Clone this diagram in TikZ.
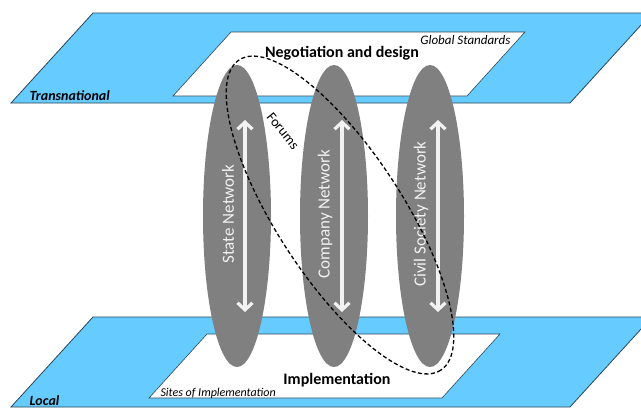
\documentclass[tikz,border=0pt]{standalone}
\usepackage{fontspec}
\setmainfont{Carlito}
\usepackage{tikz}
\usetikzlibrary{shapes.geometric, arrows.meta}
\definecolor{planeblue}{RGB}{102,204,255}
\definecolor{planeedge}{RGB}{40,70,85}
\definecolor{netgray}{RGB}{128,128,128}
\definecolor{flowwhite}{RGB}{242,242,242}

\begin{document}
\begin{tikzpicture}[x=1pt, y=-1pt,
        plane/.style={fill=planeblue, draw=planeedge, line width=0.8pt},
        site/.style={fill=white, draw=planeedge, line width=0.6pt},
        network/.style={ellipse, fill=netgray, draw=none, minimum width=68pt, minimum height=302pt, inner sep=0pt},
        flow/.style={{Straight Barb[length=7pt, width=15pt]}-{Straight Barb[length=7pt, width=15pt]}, flowwhite, line width=3.2pt},
        netlabel/.style={rotate=90, text=flowwhite, font=\fontsize{17}{20}\selectfont},
        forumline/.style={dashed, dash pattern=on 4pt off 2.5pt, line width=1.3pt}]
            \useasboundingbox (0,0) rectangle (641,408);
            \clip (0,0) rectangle (641,408);

            \draw[plane] (93,13) -- (652,13) -- (570,103) -- (11,103) -- cycle;
            \draw[site] (231,32) -- (525,32) -- (467,96) -- (173,96) -- cycle;
            \draw[plane] (93,317) -- (652,317) -- (570,407) -- (11,407) -- cycle;
            \draw[site] (207,334) -- (500,334) -- (442,398) -- (149,398) -- cycle;

            \foreach \name/\cx/\txt in {state/237/State Network, company/334/Company Network, civil/430/Civil Society Network} {
                \node[network] (\name) at (\cx,216) {};
                \coordinate (\name-up) at (\cx+8,120);
                \coordinate (\name-down) at (\cx+8,312);
                \draw[flow] (\name-up) -- (\name-down);
                \node[netlabel] (\name-label) at (\cx-9,214) {\txt};
            }

            \draw[forumline, rotate around={-57:(340,215)}] (340,215) ellipse [x radius=185, y radius=63];
            \node[rotate=-51, font=\fontsize{14}{16}\selectfont] (forums) at (283,131) {Forums};

            \node[anchor=west, font=\fontsize{14}{16}\selectfont\bfseries\itshape] (transnational) at (26,96) {Transnational};
            \node[anchor=west, font=\fontsize{14}{16}\selectfont\bfseries\itshape] (local) at (26,401) {Local};
            \node[font=\fontsize{16}{19}\selectfont\bfseries] (negotiation) at (342,53) {Negotiation and design};
            \node[anchor=east, font=\fontsize{13}{15}\selectfont\itshape] (global) at (514,40) {Global Standards};
            \node[font=\fontsize{16}{19}\selectfont\bfseries] (implementation) at (337,380) {Implementation};
            \node[anchor=west, font=\fontsize{12}{14}\selectfont\itshape] (sites) at (157,393) {Sites of Implementation};
        \end{tikzpicture}
\end{document}
